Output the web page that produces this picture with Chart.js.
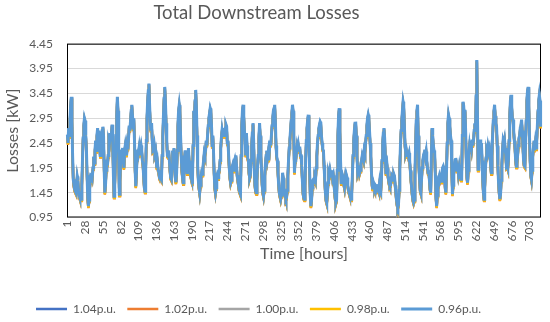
<!DOCTYPE html>
<html>
<head>
<meta charset="utf-8">
<script src="https://cdn.jsdelivr.net/npm/chart.js@4/dist/chart.umd.min.js"></script>
<style>
  body { margin: 0; background: #fff; }
  #wrap { width: 550px; height: 322px; }
</style>
</head>
<body>
<div id="wrap"><canvas id="chart" width="550" height="322"></canvas></div>
<script>
// hours 1..720 (one month, hourly)
const hours = Array.from({ length: 720 }, (_, i) => i + 1);
const tickHours = [1, 28, 55, 82, 109, 136, 163, 190, 217, 244, 271, 298, 325, 352, 379, 406, 433, 460, 487, 514, 541, 568, 595, 622, 649, 676, 703];
const seriesNames = ['1.04p.u.', '1.02p.u.', '1.00p.u.', '0.98p.u.', '0.96p.u.'];
const seriesColors = ['#4472C4', '#ED7D31', '#A5A5A5', '#FFC000', '#5B9BD5'];

// losses [kW], one line per 24 hours
const loss104 = [
2.61,2.44,2.74,2.59,2.89,3.19,3.37,2.89,2.19,1.71,1.59,1.51,1.47,1.44,1.59,1.77,1.69,1.49,1.39,1.34,1.31,1.31,1.59,2.09,
2.54,2.79,2.94,2.89,2.59,2.31,1.79,1.34,1.17,1.29,1.54,1.71,1.67,1.84,1.77,1.94,2.17,2.04,2.29,2.49,2.29,2.59,2.74,2.39,
2.69,2.44,2.19,2.34,2.54,2.69,2.77,2.59,1.89,1.44,1.59,1.89,2.11,1.99,2.19,2.49,2.44,2.64,2.49,2.64,2.81,2.39,1.79,1.37,
1.59,2.09,2.59,2.99,3.37,3.09,2.19,1.41,1.69,2.09,2.31,2.19,2.34,2.09,1.94,2.29,2.39,2.29,2.19,2.39,2.31,2.54,2.79,2.69,
2.89,3.09,3.21,2.99,2.74,2.94,2.49,1.89,1.57,1.84,2.19,2.31,2.24,2.34,2.19,2.31,2.39,2.29,2.09,1.99,1.74,1.54,1.47,1.89,
2.49,2.94,3.29,3.49,3.64,3.19,2.84,2.69,2.84,2.49,2.29,2.31,2.39,2.24,2.29,2.09,1.94,2.04,1.89,1.84,1.74,1.71,1.74,1.71,
2.19,2.59,2.99,3.34,3.57,3.29,2.84,2.49,2.19,2.17,2.29,2.09,1.89,1.74,1.71,1.99,2.29,2.04,2.34,1.99,1.74,1.65,1.84,2.29,
2.79,3.09,3.21,3.09,2.59,2.19,1.89,1.74,1.64,1.79,2.09,2.29,2.19,1.99,1.84,1.99,2.34,2.09,1.89,1.84,1.74,1.69,1.61,2.39,
3.09,2.94,3.29,3.51,3.19,2.59,1.99,1.69,1.54,1.44,1.59,1.74,1.84,1.81,1.94,2.09,2.24,2.19,2.29,2.49,2.39,2.59,2.79,2.94,
3.04,3.14,3.09,2.79,2.39,2.59,2.29,1.84,1.54,1.44,1.54,1.71,1.79,1.74,1.84,1.89,2.09,2.34,2.54,2.69,2.59,2.74,2.59,2.69,
2.74,2.81,2.77,2.44,2.49,2.19,1.94,1.74,1.64,1.69,1.94,1.99,1.89,2.04,2.09,1.94,2.19,1.99,1.79,1.69,1.59,1.49,1.49,1.41,
2.19,2.79,3.09,3.21,2.99,2.69,2.49,2.19,2.64,2.39,2.14,2.09,1.84,1.74,1.79,2.09,2.39,2.64,2.84,2.49,1.89,1.59,1.47,1.44,
1.69,1.99,2.19,2.54,2.84,2.59,2.19,1.89,1.59,1.44,1.37,1.49,1.79,2.04,2.19,2.29,2.14,2.24,2.09,2.29,2.49,2.39,2.59,2.79,
2.94,3.09,3.14,3.21,2.89,2.39,2.17,2.09,1.84,1.59,1.44,1.37,1.31,1.39,1.59,1.84,1.74,1.54,1.44,1.37,1.31,1.34,1.49,1.79,
2.09,2.34,2.49,2.69,2.89,3.04,3.21,3.09,2.59,1.84,2.09,2.31,2.24,2.37,2.29,2.39,2.29,2.37,2.19,2.19,1.99,1.69,1.44,1.34,
1.31,1.59,2.09,2.49,2.74,2.89,3.01,2.59,1.89,1.39,1.17,1.29,1.54,1.69,1.71,1.64,1.74,1.69,1.94,2.19,2.44,2.59,2.74,2.81,
2.87,2.84,2.59,2.44,2.31,2.29,1.99,1.69,1.44,1.29,1.24,1.39,1.64,1.84,1.79,1.89,1.81,1.84,1.89,1.74,1.79,1.64,1.44,1.31,
1.24,1.29,1.89,2.59,2.99,3.14,2.69,2.09,1.64,1.71,1.79,1.74,1.61,1.54,1.69,1.59,1.79,1.74,1.59,1.49,1.44,1.39,1.34,1.31,
1.44,1.79,2.19,2.49,2.69,2.84,2.87,2.59,2.19,1.84,1.89,1.99,1.84,1.89,2.04,2.09,2.19,2.19,2.09,2.29,2.24,2.44,2.59,2.79,
2.94,3.01,2.94,2.69,2.44,2.19,1.84,1.59,1.51,1.64,1.59,1.54,1.59,1.57,1.61,1.51,1.54,1.49,1.61,1.47,1.44,1.69,2.09,2.44,
2.64,2.74,2.54,2.19,1.84,1.84,1.94,1.79,1.69,1.61,1.57,1.59,1.74,1.79,1.77,1.69,1.81,1.77,1.59,1.44,1.29,1.19,1.14,1.19,
1.49,1.94,2.39,2.69,2.89,3.09,3.27,3.19,2.79,2.39,2.24,2.29,2.19,2.27,2.19,2.24,2.09,1.89,1.69,1.54,1.39,1.29,1.24,1.29,
1.79,2.39,2.89,3.09,3.21,2.59,1.99,1.71,1.49,1.44,1.69,1.94,2.09,2.19,2.24,2.31,2.19,2.27,2.09,1.94,1.84,1.89,1.69,1.51,
1.44,2.19,2.74,2.59,2.39,2.29,2.24,1.79,1.34,1.17,1.39,1.64,1.71,1.77,1.69,1.74,1.67,1.84,1.94,1.97,1.91,1.79,1.54,1.44,
1.89,2.44,2.84,3.01,2.94,2.79,2.59,2.49,1.89,1.41,1.59,1.84,1.94,2.09,2.14,2.04,1.89,1.99,1.84,1.94,1.79,1.74,1.71,1.74,
2.59,3.27,3.19,2.99,3.11,2.69,2.09,1.74,1.64,1.89,2.24,2.39,2.29,2.44,2.34,2.51,2.39,2.49,2.69,2.84,2.74,3.39,4.11,2.99,
1.91,2.19,2.39,2.51,2.34,2.44,2.09,1.69,1.44,1.31,1.54,1.89,2.14,2.29,2.24,2.37,2.29,2.34,2.19,1.99,1.84,2.19,2.59,2.89,
3.09,3.21,2.99,2.84,2.77,2.39,1.99,1.64,1.44,1.31,1.39,1.69,1.99,2.29,2.49,2.44,2.51,2.34,2.19,1.97,1.99,1.94,2.09,2.49,
2.99,3.29,3.41,3.19,2.94,2.91,2.69,2.49,2.34,2.09,1.97,2.04,2.19,2.39,2.54,2.59,2.74,2.79,2.91,2.69,2.39,2.09,1.99,1.97,
2.39,2.89,3.29,3.49,3.57,3.19,2.59,2.09,1.79,1.71,1.89,2.19,2.34,2.49,2.29,2.44,2.34,2.49,2.79,3.09,3.29,3.41,3.29,2.77
];

const loss102 = [
2.58,2.41,2.71,2.56,2.86,3.16,3.34,2.86,2.16,1.68,1.56,1.48,1.44,1.41,1.56,1.74,1.66,1.46,1.36,1.31,1.28,1.28,1.56,2.06,
2.51,2.76,2.91,2.86,2.56,2.28,1.76,1.31,1.14,1.26,1.51,1.68,1.64,1.81,1.74,1.91,2.14,2.01,2.26,2.46,2.26,2.56,2.71,2.36,
2.66,2.41,2.16,2.31,2.51,2.66,2.74,2.56,1.86,1.41,1.56,1.86,2.08,1.96,2.16,2.46,2.41,2.61,2.46,2.61,2.78,2.36,1.76,1.34,
1.56,2.06,2.56,2.96,3.34,3.06,2.16,1.38,1.66,2.06,2.28,2.16,2.31,2.06,1.91,2.26,2.36,2.26,2.16,2.36,2.28,2.51,2.76,2.66,
2.86,3.06,3.18,2.96,2.71,2.91,2.46,1.86,1.54,1.81,2.16,2.28,2.21,2.31,2.16,2.28,2.36,2.26,2.06,1.96,1.71,1.51,1.44,1.86,
2.46,2.91,3.26,3.46,3.61,3.16,2.81,2.66,2.81,2.46,2.26,2.28,2.36,2.21,2.26,2.06,1.91,2.01,1.86,1.81,1.71,1.68,1.71,1.68,
2.16,2.56,2.96,3.31,3.54,3.26,2.81,2.46,2.16,2.14,2.26,2.06,1.86,1.71,1.68,1.96,2.26,2.01,2.31,1.96,1.71,1.62,1.81,2.26,
2.76,3.06,3.18,3.06,2.56,2.16,1.86,1.71,1.61,1.76,2.06,2.26,2.16,1.96,1.81,1.96,2.31,2.06,1.86,1.81,1.71,1.66,1.58,2.36,
3.06,2.91,3.26,3.48,3.16,2.56,1.96,1.66,1.51,1.41,1.56,1.71,1.81,1.78,1.91,2.06,2.21,2.16,2.26,2.46,2.36,2.56,2.76,2.91,
3.01,3.11,3.06,2.76,2.36,2.56,2.26,1.81,1.51,1.41,1.51,1.68,1.76,1.71,1.81,1.86,2.06,2.31,2.51,2.66,2.56,2.71,2.56,2.66,
2.71,2.78,2.74,2.41,2.46,2.16,1.91,1.71,1.61,1.66,1.91,1.96,1.86,2.01,2.06,1.91,2.16,1.96,1.76,1.66,1.56,1.46,1.46,1.38,
2.16,2.76,3.06,3.18,2.96,2.66,2.46,2.16,2.61,2.36,2.11,2.06,1.81,1.71,1.76,2.06,2.36,2.61,2.81,2.46,1.86,1.56,1.44,1.41,
1.66,1.96,2.16,2.51,2.81,2.56,2.16,1.86,1.56,1.41,1.34,1.46,1.76,2.01,2.16,2.26,2.11,2.21,2.06,2.26,2.46,2.36,2.56,2.76,
2.91,3.06,3.11,3.18,2.86,2.36,2.14,2.06,1.81,1.56,1.41,1.34,1.28,1.36,1.56,1.81,1.71,1.51,1.41,1.34,1.28,1.31,1.46,1.76,
2.06,2.31,2.46,2.66,2.86,3.01,3.18,3.06,2.56,1.81,2.06,2.28,2.21,2.34,2.26,2.36,2.26,2.34,2.16,2.16,1.96,1.66,1.41,1.31,
1.28,1.56,2.06,2.46,2.71,2.86,2.98,2.56,1.86,1.36,1.14,1.26,1.51,1.66,1.68,1.61,1.71,1.66,1.91,2.16,2.41,2.56,2.71,2.78,
2.84,2.81,2.56,2.41,2.28,2.26,1.96,1.66,1.41,1.26,1.21,1.36,1.61,1.81,1.76,1.86,1.78,1.81,1.86,1.71,1.76,1.61,1.41,1.28,
1.21,1.26,1.86,2.56,2.96,3.11,2.66,2.06,1.61,1.68,1.76,1.71,1.58,1.51,1.66,1.56,1.76,1.71,1.56,1.46,1.41,1.36,1.31,1.28,
1.41,1.76,2.16,2.46,2.66,2.81,2.84,2.56,2.16,1.81,1.86,1.96,1.81,1.86,2.01,2.06,2.16,2.16,2.06,2.26,2.21,2.41,2.56,2.76,
2.91,2.98,2.91,2.66,2.41,2.16,1.81,1.56,1.48,1.61,1.56,1.51,1.56,1.54,1.58,1.48,1.51,1.46,1.58,1.44,1.41,1.66,2.06,2.41,
2.61,2.71,2.51,2.16,1.81,1.81,1.91,1.76,1.66,1.58,1.54,1.56,1.71,1.76,1.74,1.66,1.78,1.74,1.56,1.41,1.26,1.16,1.11,1.16,
1.46,1.91,2.36,2.66,2.86,3.06,3.24,3.16,2.76,2.36,2.21,2.26,2.16,2.24,2.16,2.21,2.06,1.86,1.66,1.51,1.36,1.26,1.21,1.26,
1.76,2.36,2.86,3.06,3.18,2.56,1.96,1.68,1.46,1.41,1.66,1.91,2.06,2.16,2.21,2.28,2.16,2.24,2.06,1.91,1.81,1.86,1.66,1.48,
1.41,2.16,2.71,2.56,2.36,2.26,2.21,1.76,1.31,1.14,1.36,1.61,1.68,1.74,1.66,1.71,1.64,1.81,1.91,1.94,1.88,1.76,1.51,1.41,
1.86,2.41,2.81,2.98,2.91,2.76,2.56,2.46,1.86,1.38,1.56,1.81,1.91,2.06,2.11,2.01,1.86,1.96,1.81,1.91,1.76,1.71,1.68,1.71,
2.56,3.24,3.16,2.96,3.08,2.66,2.06,1.71,1.61,1.86,2.21,2.36,2.26,2.41,2.31,2.48,2.36,2.46,2.66,2.81,2.71,3.36,4.08,2.96,
1.88,2.16,2.36,2.48,2.31,2.41,2.06,1.66,1.41,1.28,1.51,1.86,2.11,2.26,2.21,2.34,2.26,2.31,2.16,1.96,1.81,2.16,2.56,2.86,
3.06,3.18,2.96,2.81,2.74,2.36,1.96,1.61,1.41,1.28,1.36,1.66,1.96,2.26,2.46,2.41,2.48,2.31,2.16,1.94,1.96,1.91,2.06,2.46,
2.96,3.26,3.38,3.16,2.91,2.88,2.66,2.46,2.31,2.06,1.94,2.01,2.16,2.36,2.51,2.56,2.71,2.76,2.88,2.66,2.36,2.06,1.96,1.94,
2.36,2.86,3.26,3.46,3.54,3.16,2.56,2.06,1.76,1.68,1.86,2.16,2.31,2.46,2.26,2.41,2.31,2.46,2.76,3.06,3.26,3.38,3.26,2.74
];

const loss100 = [
2.6,2.43,2.73,2.58,2.88,3.18,3.36,2.88,2.18,1.7,1.58,1.5,1.46,1.43,1.58,1.76,1.68,1.48,1.38,1.33,1.3,1.3,1.58,2.08,
2.53,2.78,2.93,2.88,2.58,2.3,1.78,1.33,1.16,1.28,1.53,1.7,1.66,1.83,1.76,1.93,2.16,2.03,2.28,2.48,2.28,2.58,2.73,2.38,
2.68,2.43,2.18,2.33,2.53,2.68,2.76,2.58,1.88,1.43,1.58,1.88,2.1,1.98,2.18,2.48,2.43,2.63,2.48,2.63,2.8,2.38,1.78,1.36,
1.58,2.08,2.58,2.98,3.36,3.08,2.18,1.4,1.68,2.08,2.3,2.18,2.33,2.08,1.93,2.28,2.38,2.28,2.18,2.38,2.3,2.53,2.78,2.68,
2.88,3.08,3.2,2.98,2.73,2.93,2.48,1.88,1.56,1.83,2.18,2.3,2.23,2.33,2.18,2.3,2.38,2.28,2.08,1.98,1.73,1.53,1.46,1.88,
2.48,2.93,3.28,3.48,3.63,3.18,2.83,2.68,2.83,2.48,2.28,2.3,2.38,2.23,2.28,2.08,1.93,2.03,1.88,1.83,1.73,1.7,1.73,1.7,
2.18,2.58,2.98,3.33,3.56,3.28,2.83,2.48,2.18,2.16,2.28,2.08,1.88,1.73,1.7,1.98,2.28,2.03,2.33,1.98,1.73,1.64,1.83,2.28,
2.78,3.08,3.2,3.08,2.58,2.18,1.88,1.73,1.63,1.78,2.08,2.28,2.18,1.98,1.83,1.98,2.33,2.08,1.88,1.83,1.73,1.68,1.6,2.38,
3.08,2.93,3.28,3.5,3.18,2.58,1.98,1.68,1.53,1.43,1.58,1.73,1.83,1.8,1.93,2.08,2.23,2.18,2.28,2.48,2.38,2.58,2.78,2.93,
3.03,3.13,3.08,2.78,2.38,2.58,2.28,1.83,1.53,1.43,1.53,1.7,1.78,1.73,1.83,1.88,2.08,2.33,2.53,2.68,2.58,2.73,2.58,2.68,
2.73,2.8,2.76,2.43,2.48,2.18,1.93,1.73,1.63,1.68,1.93,1.98,1.88,2.03,2.08,1.93,2.18,1.98,1.78,1.68,1.58,1.48,1.48,1.4,
2.18,2.78,3.08,3.2,2.98,2.68,2.48,2.18,2.63,2.38,2.13,2.08,1.83,1.73,1.78,2.08,2.38,2.63,2.83,2.48,1.88,1.58,1.46,1.43,
1.68,1.98,2.18,2.53,2.83,2.58,2.18,1.88,1.58,1.43,1.36,1.48,1.78,2.03,2.18,2.28,2.13,2.23,2.08,2.28,2.48,2.38,2.58,2.78,
2.93,3.08,3.13,3.2,2.88,2.38,2.16,2.08,1.83,1.58,1.43,1.36,1.3,1.38,1.58,1.83,1.73,1.53,1.43,1.36,1.3,1.33,1.48,1.78,
2.08,2.33,2.48,2.68,2.88,3.03,3.2,3.08,2.58,1.83,2.08,2.3,2.23,2.36,2.28,2.38,2.28,2.36,2.18,2.18,1.98,1.68,1.43,1.33,
1.3,1.58,2.08,2.48,2.73,2.88,3.0,2.58,1.88,1.38,1.16,1.28,1.53,1.68,1.7,1.63,1.73,1.68,1.93,2.18,2.43,2.58,2.73,2.8,
2.86,2.83,2.58,2.43,2.3,2.28,1.98,1.68,1.43,1.28,1.23,1.38,1.63,1.83,1.78,1.88,1.8,1.83,1.88,1.73,1.78,1.63,1.43,1.3,
1.23,1.28,1.88,2.58,2.98,3.13,2.68,2.08,1.63,1.7,1.78,1.73,1.6,1.53,1.68,1.58,1.78,1.73,1.58,1.48,1.43,1.38,1.33,1.3,
1.43,1.78,2.18,2.48,2.68,2.83,2.86,2.58,2.18,1.83,1.88,1.98,1.83,1.88,2.03,2.08,2.18,2.18,2.08,2.28,2.23,2.43,2.58,2.78,
2.93,3.0,2.93,2.68,2.43,2.18,1.83,1.58,1.5,1.63,1.58,1.53,1.58,1.56,1.6,1.5,1.53,1.48,1.6,1.46,1.43,1.68,2.08,2.43,
2.63,2.73,2.53,2.18,1.83,1.83,1.93,1.78,1.68,1.6,1.56,1.58,1.73,1.78,1.76,1.68,1.8,1.76,1.58,1.43,1.28,1.18,1.13,1.18,
1.48,1.93,2.38,2.68,2.88,3.08,3.26,3.18,2.78,2.38,2.23,2.28,2.18,2.26,2.18,2.23,2.08,1.88,1.68,1.53,1.38,1.28,1.23,1.28,
1.78,2.38,2.88,3.08,3.2,2.58,1.98,1.7,1.48,1.43,1.68,1.93,2.08,2.18,2.23,2.3,2.18,2.26,2.08,1.93,1.83,1.88,1.68,1.5,
1.43,2.18,2.73,2.58,2.38,2.28,2.23,1.78,1.33,1.16,1.38,1.63,1.7,1.76,1.68,1.73,1.66,1.83,1.93,1.96,1.9,1.78,1.53,1.43,
1.88,2.43,2.83,3.0,2.93,2.78,2.58,2.48,1.88,1.4,1.58,1.83,1.93,2.08,2.13,2.03,1.88,1.98,1.83,1.93,1.78,1.73,1.7,1.73,
2.58,3.26,3.18,2.98,3.1,2.68,2.08,1.73,1.63,1.88,2.23,2.38,2.28,2.43,2.33,2.5,2.38,2.48,2.68,2.83,2.73,3.38,4.1,2.98,
1.9,2.18,2.38,2.5,2.33,2.43,2.08,1.68,1.43,1.3,1.53,1.88,2.13,2.28,2.23,2.36,2.28,2.33,2.18,1.98,1.83,2.18,2.58,2.88,
3.08,3.2,2.98,2.83,2.76,2.38,1.98,1.63,1.43,1.3,1.38,1.68,1.98,2.28,2.48,2.43,2.5,2.33,2.18,1.96,1.98,1.93,2.08,2.48,
2.98,3.28,3.4,3.18,2.93,2.9,2.68,2.48,2.33,2.08,1.96,2.03,2.18,2.38,2.53,2.58,2.73,2.78,2.9,2.68,2.38,2.08,1.98,1.96,
2.38,2.88,3.28,3.48,3.56,3.18,2.58,2.08,1.78,1.7,1.88,2.18,2.33,2.48,2.28,2.43,2.33,2.48,2.78,3.08,3.28,3.4,3.28,2.76
];

const loss098 = [
2.59,2.42,2.72,2.57,2.87,3.17,3.35,2.87,2.17,1.69,1.57,1.49,1.45,1.42,1.57,1.75,1.67,1.47,1.37,1.32,1.29,1.29,1.57,2.07,
2.52,2.77,2.92,2.87,2.57,2.29,1.77,1.32,1.15,1.27,1.52,1.69,1.65,1.82,1.75,1.92,2.15,2.02,2.27,2.47,2.27,2.57,2.72,2.37,
2.67,2.42,2.17,2.32,2.52,2.67,2.75,2.57,1.87,1.42,1.57,1.87,2.09,1.97,2.17,2.47,2.42,2.62,2.47,2.62,2.79,2.37,1.77,1.35,
1.57,2.07,2.57,2.97,3.35,3.07,2.17,1.39,1.67,2.07,2.29,2.17,2.32,2.07,1.92,2.27,2.37,2.27,2.17,2.37,2.29,2.52,2.77,2.67,
2.87,3.07,3.19,2.97,2.72,2.92,2.47,1.87,1.55,1.82,2.17,2.29,2.22,2.32,2.17,2.29,2.37,2.27,2.07,1.97,1.72,1.52,1.45,1.87,
2.47,2.92,3.27,3.47,3.62,3.17,2.82,2.67,2.82,2.47,2.27,2.29,2.37,2.22,2.27,2.07,1.92,2.02,1.87,1.82,1.72,1.69,1.72,1.69,
2.17,2.57,2.97,3.32,3.55,3.27,2.82,2.47,2.17,2.15,2.27,2.07,1.87,1.72,1.69,1.97,2.27,2.02,2.32,1.97,1.72,1.63,1.82,2.27,
2.77,3.07,3.19,3.07,2.57,2.17,1.87,1.72,1.62,1.77,2.07,2.27,2.17,1.97,1.82,1.97,2.32,2.07,1.87,1.82,1.72,1.67,1.59,2.37,
3.07,2.92,3.27,3.49,3.17,2.57,1.97,1.67,1.52,1.42,1.57,1.72,1.82,1.79,1.92,2.07,2.22,2.17,2.27,2.47,2.37,2.57,2.77,2.92,
3.02,3.12,3.07,2.77,2.37,2.57,2.27,1.82,1.52,1.42,1.52,1.69,1.77,1.72,1.82,1.87,2.07,2.32,2.52,2.67,2.57,2.72,2.57,2.67,
2.72,2.79,2.75,2.42,2.47,2.17,1.92,1.72,1.62,1.67,1.92,1.97,1.87,2.02,2.07,1.92,2.17,1.97,1.77,1.67,1.57,1.47,1.47,1.39,
2.17,2.77,3.07,3.19,2.97,2.67,2.47,2.17,2.62,2.37,2.12,2.07,1.82,1.72,1.77,2.07,2.37,2.62,2.82,2.47,1.87,1.57,1.45,1.42,
1.67,1.97,2.17,2.52,2.82,2.57,2.17,1.87,1.57,1.42,1.35,1.47,1.77,2.02,2.17,2.27,2.12,2.22,2.07,2.27,2.47,2.37,2.57,2.77,
2.92,3.07,3.12,3.19,2.87,2.37,2.15,2.07,1.82,1.57,1.42,1.35,1.29,1.37,1.57,1.82,1.72,1.52,1.42,1.35,1.29,1.32,1.47,1.77,
2.07,2.32,2.47,2.67,2.87,3.02,3.19,3.07,2.57,1.82,2.07,2.29,2.22,2.35,2.27,2.37,2.27,2.35,2.17,2.17,1.97,1.67,1.42,1.32,
1.29,1.57,2.07,2.47,2.72,2.87,2.99,2.57,1.87,1.37,1.15,1.27,1.52,1.67,1.69,1.62,1.72,1.67,1.92,2.17,2.42,2.57,2.72,2.79,
2.85,2.82,2.57,2.42,2.29,2.27,1.97,1.67,1.42,1.27,1.22,1.37,1.62,1.82,1.77,1.87,1.79,1.82,1.87,1.72,1.77,1.62,1.42,1.29,
1.22,1.27,1.87,2.57,2.97,3.12,2.67,2.07,1.62,1.69,1.77,1.72,1.59,1.52,1.67,1.57,1.77,1.72,1.57,1.47,1.42,1.37,1.32,1.29,
1.42,1.77,2.17,2.47,2.67,2.82,2.85,2.57,2.17,1.82,1.87,1.97,1.82,1.87,2.02,2.07,2.17,2.17,2.07,2.27,2.22,2.42,2.57,2.77,
2.92,2.99,2.92,2.67,2.42,2.17,1.82,1.57,1.49,1.62,1.57,1.52,1.57,1.55,1.59,1.49,1.52,1.47,1.59,1.45,1.42,1.67,2.07,2.42,
2.62,2.72,2.52,2.17,1.82,1.82,1.92,1.77,1.67,1.59,1.55,1.57,1.72,1.77,1.75,1.67,1.79,1.75,1.57,1.42,1.27,1.17,1.12,1.17,
1.47,1.92,2.37,2.67,2.87,3.07,3.25,3.17,2.77,2.37,2.22,2.27,2.17,2.25,2.17,2.22,2.07,1.87,1.67,1.52,1.37,1.27,1.22,1.27,
1.77,2.37,2.87,3.07,3.19,2.57,1.97,1.69,1.47,1.42,1.67,1.92,2.07,2.17,2.22,2.29,2.17,2.25,2.07,1.92,1.82,1.87,1.67,1.49,
1.42,2.17,2.72,2.57,2.37,2.27,2.22,1.77,1.32,1.15,1.37,1.62,1.69,1.75,1.67,1.72,1.65,1.82,1.92,1.95,1.89,1.77,1.52,1.42,
1.87,2.42,2.82,2.99,2.92,2.77,2.57,2.47,1.87,1.39,1.57,1.82,1.92,2.07,2.12,2.02,1.87,1.97,1.82,1.92,1.77,1.72,1.69,1.72,
2.57,3.25,3.17,2.97,3.09,2.67,2.07,1.72,1.62,1.87,2.22,2.37,2.27,2.42,2.32,2.49,2.37,2.47,2.67,2.82,2.72,3.37,4.09,2.97,
1.89,2.17,2.37,2.49,2.32,2.42,2.07,1.67,1.42,1.29,1.52,1.87,2.12,2.27,2.22,2.35,2.27,2.32,2.17,1.97,1.82,2.17,2.57,2.87,
3.07,3.19,2.97,2.82,2.75,2.37,1.97,1.62,1.42,1.29,1.37,1.67,1.97,2.27,2.47,2.42,2.49,2.32,2.17,1.95,1.97,1.92,2.07,2.47,
2.97,3.27,3.39,3.17,2.92,2.89,2.67,2.47,2.32,2.07,1.95,2.02,2.17,2.37,2.52,2.57,2.72,2.77,2.89,2.67,2.37,2.07,1.97,1.95,
2.37,2.87,3.27,3.47,3.55,3.17,2.57,2.07,1.77,1.69,1.87,2.17,2.32,2.47,2.27,2.42,2.32,2.47,2.77,3.07,3.27,3.39,3.27,2.75
];

const loss096 = [
2.62,2.45,2.75,2.6,2.9,3.2,3.38,2.9,2.2,1.72,1.6,1.52,1.48,1.45,1.6,1.78,1.7,1.5,1.4,1.35,1.32,1.32,1.6,2.1,
2.55,2.8,2.95,2.9,2.6,2.32,1.8,1.35,1.18,1.3,1.55,1.72,1.68,1.85,1.78,1.95,2.18,2.05,2.3,2.5,2.3,2.6,2.75,2.4,
2.7,2.45,2.2,2.35,2.55,2.7,2.78,2.6,1.9,1.45,1.6,1.9,2.12,2.0,2.2,2.5,2.45,2.65,2.5,2.65,2.82,2.4,1.8,1.38,
1.6,2.1,2.6,3.0,3.38,3.1,2.2,1.42,1.7,2.1,2.32,2.2,2.35,2.1,1.95,2.3,2.4,2.3,2.2,2.4,2.32,2.55,2.8,2.7,
2.9,3.1,3.22,3.0,2.75,2.95,2.5,1.9,1.58,1.85,2.2,2.32,2.25,2.35,2.2,2.32,2.4,2.3,2.1,2.0,1.75,1.55,1.48,1.9,
2.5,2.95,3.3,3.5,3.65,3.2,2.85,2.7,2.85,2.5,2.3,2.32,2.4,2.25,2.3,2.1,1.95,2.05,1.9,1.85,1.75,1.72,1.75,1.72,
2.2,2.6,3.0,3.35,3.58,3.3,2.85,2.5,2.2,2.18,2.3,2.1,1.9,1.75,1.72,2.0,2.3,2.05,2.35,2.0,1.75,1.66,1.85,2.3,
2.8,3.1,3.22,3.1,2.6,2.2,1.9,1.75,1.65,1.8,2.1,2.3,2.2,2.0,1.85,2.0,2.35,2.1,1.9,1.85,1.75,1.7,1.62,2.4,
3.1,2.95,3.3,3.52,3.2,2.6,2.0,1.7,1.55,1.45,1.6,1.75,1.85,1.82,1.95,2.1,2.25,2.2,2.3,2.5,2.4,2.6,2.8,2.95,
3.05,3.15,3.1,2.8,2.4,2.6,2.3,1.85,1.55,1.45,1.55,1.72,1.8,1.75,1.85,1.9,2.1,2.35,2.55,2.7,2.6,2.75,2.6,2.7,
2.75,2.82,2.78,2.45,2.5,2.2,1.95,1.75,1.65,1.7,1.95,2.0,1.9,2.05,2.1,1.95,2.2,2.0,1.8,1.7,1.6,1.5,1.5,1.42,
2.2,2.8,3.1,3.22,3.0,2.7,2.5,2.2,2.65,2.4,2.15,2.1,1.85,1.75,1.8,2.1,2.4,2.65,2.85,2.5,1.9,1.6,1.48,1.45,
1.7,2.0,2.2,2.55,2.85,2.6,2.2,1.9,1.6,1.45,1.38,1.5,1.8,2.05,2.2,2.3,2.15,2.25,2.1,2.3,2.5,2.4,2.6,2.8,
2.95,3.1,3.15,3.22,2.9,2.4,2.18,2.1,1.85,1.6,1.45,1.38,1.32,1.4,1.6,1.85,1.75,1.55,1.45,1.38,1.32,1.35,1.5,1.8,
2.1,2.35,2.5,2.7,2.9,3.05,3.22,3.1,2.6,1.85,2.1,2.32,2.25,2.38,2.3,2.4,2.3,2.38,2.2,2.2,2.0,1.7,1.45,1.35,
1.32,1.6,2.1,2.5,2.75,2.9,3.02,2.6,1.9,1.4,1.18,1.3,1.55,1.7,1.72,1.65,1.75,1.7,1.95,2.2,2.45,2.6,2.75,2.82,
2.88,2.85,2.6,2.45,2.32,2.3,2.0,1.7,1.45,1.3,1.25,1.4,1.65,1.85,1.8,1.9,1.82,1.85,1.9,1.75,1.8,1.65,1.45,1.32,
1.25,1.3,1.9,2.6,3.0,3.15,2.7,2.1,1.65,1.72,1.8,1.75,1.62,1.55,1.7,1.6,1.8,1.75,1.6,1.5,1.45,1.4,1.35,1.32,
1.45,1.8,2.2,2.5,2.7,2.85,2.88,2.6,2.2,1.85,1.9,2.0,1.85,1.9,2.05,2.1,2.2,2.2,2.1,2.3,2.25,2.45,2.6,2.8,
2.95,3.02,2.95,2.7,2.45,2.2,1.85,1.6,1.52,1.65,1.6,1.55,1.6,1.58,1.62,1.52,1.55,1.5,1.62,1.48,1.45,1.7,2.1,2.45,
2.65,2.75,2.55,2.2,1.85,1.85,1.95,1.8,1.7,1.62,1.58,1.6,1.75,1.8,1.78,1.7,1.82,1.78,1.6,1.45,1.3,1.2,1.15,1.2,
1.5,1.95,2.4,2.7,2.9,3.1,3.28,3.2,2.8,2.4,2.25,2.3,2.2,2.28,2.2,2.25,2.1,1.9,1.7,1.55,1.4,1.3,1.25,1.3,
1.8,2.4,2.9,3.1,3.22,2.6,2.0,1.72,1.5,1.45,1.7,1.95,2.1,2.2,2.25,2.32,2.2,2.28,2.1,1.95,1.85,1.9,1.7,1.52,
1.45,2.2,2.75,2.6,2.4,2.3,2.25,1.8,1.35,1.18,1.4,1.65,1.72,1.78,1.7,1.75,1.68,1.85,1.95,1.98,1.92,1.8,1.55,1.45,
1.9,2.45,2.85,3.02,2.95,2.8,2.6,2.5,1.9,1.42,1.6,1.85,1.95,2.1,2.15,2.05,1.9,2.0,1.85,1.95,1.8,1.75,1.72,1.75,
2.6,3.28,3.2,3.0,3.12,2.7,2.1,1.75,1.65,1.9,2.25,2.4,2.3,2.45,2.35,2.52,2.4,2.5,2.7,2.85,2.75,3.4,4.12,3.0,
1.92,2.2,2.4,2.52,2.35,2.45,2.1,1.7,1.45,1.32,1.55,1.9,2.15,2.3,2.25,2.38,2.3,2.35,2.2,2.0,1.85,2.2,2.6,2.9,
3.1,3.22,3.0,2.85,2.78,2.4,2.0,1.65,1.45,1.32,1.4,1.7,2.0,2.3,2.5,2.45,2.52,2.35,2.2,1.98,2.0,1.95,2.1,2.5,
3.0,3.3,3.42,3.2,2.95,2.92,2.7,2.5,2.35,2.1,1.98,2.05,2.2,2.4,2.55,2.6,2.75,2.8,2.92,2.7,2.4,2.1,2.0,1.98,
2.4,2.9,3.3,3.5,3.58,3.2,2.6,2.1,1.8,1.72,1.9,2.2,2.35,2.5,2.3,2.45,2.35,2.5,2.8,3.1,3.3,3.42,3.3,2.78
];

const yTicks = { min: 0.95, max: 4.45, step: 0.5 };
const textColor = '#595959';

// black frame round the plot area
const plotFrame = {
  id: 'plotFrame',
  beforeDatasetsDraw(chart) {
    const { ctx, chartArea: a } = chart;
    ctx.save();
    ctx.strokeStyle = '#000000';
    ctx.lineWidth = 1;
    ctx.strokeRect(a.left + 0.5, a.top + 0.5, a.right - a.left - 1, a.bottom - a.top - 1);
    ctx.restore();
  }
};

// title and legend sit a little left of the canvas centre in the original
const shiftBlocks = {
  id: 'shiftBlocks',
  afterLayout(chart) {
    chart.titleBlock.right = 513;
    chart.legend.right = 517;
  }
};

Chart.defaults.font.family = 'Lato, "Open Sans", sans-serif';
Chart.defaults.color = textColor;

const allSeries = [loss104, loss102, loss100, loss098, loss096];
// lower = drawn on top
const drawOrder = [4, 2, 3, 1, 0];
const lineWidths = [2.5, 2.5, 2.5, 2.5, 3];

const ctx = document.getElementById('chart');
new Chart(ctx, {
  type: 'line',
  data: {
    labels: hours,
    datasets: allSeries.map((d, i) => ({
      label: seriesNames[i],
      data: d,
      borderColor: seriesColors[i],
      backgroundColor: seriesColors[i],
      borderWidth: lineWidths[i],
      pointRadius: 0,
      tension: 0,
      fill: false,
      order: drawOrder[i]
    }))
  },
  options: {
    responsive: false,
    animation: false,
    devicePixelRatio: 1,
    layout: { padding: { left: 0, right: 9, top: 0, bottom: -3 } },
    plugins: {
      title: {
        display: true,
        text: 'Total Downstream Losses',
        color: textColor,
        font: { size: 18.5, weight: 'normal' },
        padding: { top: 1.5, bottom: 20 }
      },
      legend: {
        position: 'bottom',
        labels: {
          usePointStyle: true,
          pointStyle: 'line',
          pointStyleWidth: 31,
          boxHeight: 12,
          color: textColor,
          font: { size: 12 },
          padding: 11.5,
          sort: (a, b) => a.datasetIndex - b.datasetIndex
        }
      },
      tooltip: { enabled: false }
    },
    scales: {
      x: {
        offset: true,
        grid: { display: false, drawTicks: false },
        border: { display: false },
        ticks: {
          autoSkip: false,
          minRotation: 90,
          maxRotation: 90,
          padding: 3,
          color: textColor,
          font: { size: 12 },
          callback: function (v, i) {
            const h = hours[i];
            return tickHours.includes(h) ? String(h) : null;
          }
        },
        title: {
          display: true,
          text: 'Time [hours]',
          color: textColor,
          font: { size: 16 },
          padding: { top: 0, bottom: 28 }
        },
        afterFit: (s) => { s.height = 74; }
      },
      y: {
        min: yTicks.min,
        max: yTicks.max,
        grid: { color: '#d9d9d9', lineWidth: 1, drawTicks: false },
        border: { display: false },
        ticks: {
          stepSize: yTicks.step,
          padding: 14,
          color: textColor,
          font: { size: 12 },
          callback: (v) => Number(v).toFixed(2)
        },
        title: {
          display: true,
          text: 'Losses [kW]',
          color: textColor,
          font: { size: 16 },
          padding: { top: 3.4, bottom: 0 }
        },
        afterFit: (s) => { s.width = 67; }
      }
    }
  },
  plugins: [plotFrame, shiftBlocks]
});
</script>
</body>
</html>
